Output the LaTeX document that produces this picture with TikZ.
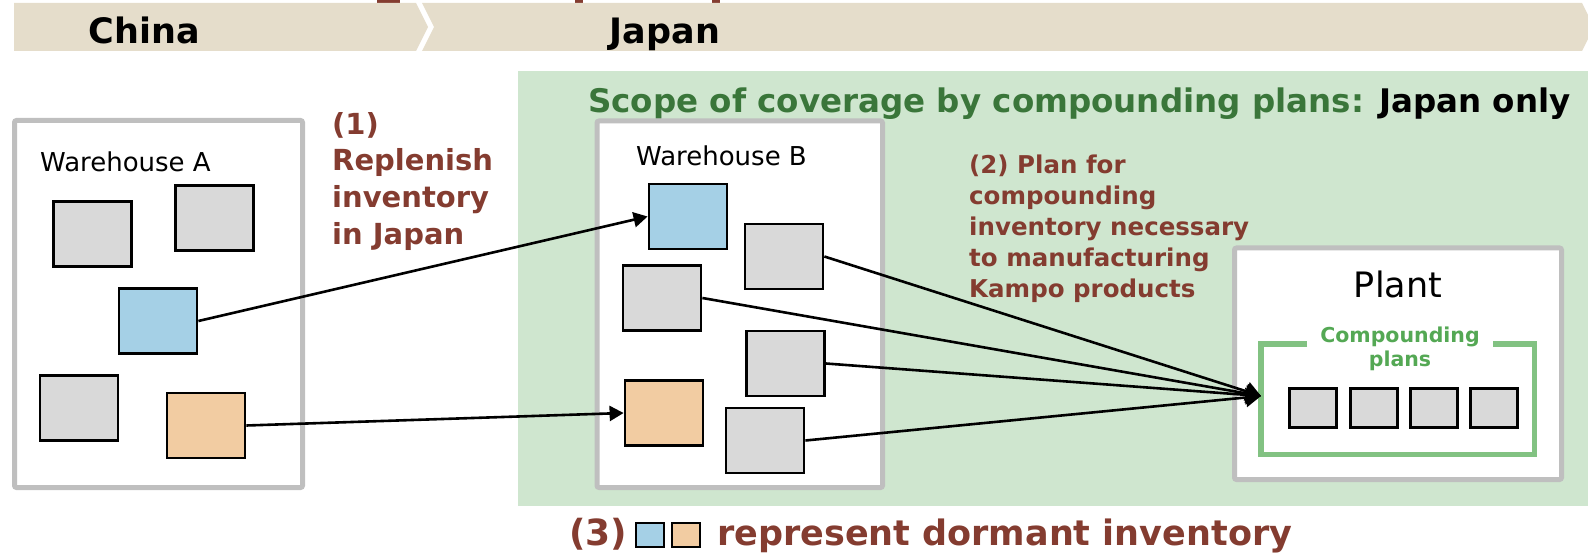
\documentclass[tikz,border=0pt]{standalone}
\usepackage{fontspec}
\setmainfont{DejaVu Sans}
\usetikzlibrary{arrows.meta}

\definecolor{banner}{RGB}{229,221,203}
\definecolor{scopebg}{RGB}{207,230,207}
\definecolor{frame}{RGB}{191,191,191}
\definecolor{stock}{RGB}{217,217,217}
\definecolor{dormblue}{RGB}{165,208,230}
\definecolor{dormorange}{RGB}{242,204,162}
\definecolor{brick}{RGB}{132,60,48}
\definecolor{scopegreen}{RGB}{58,118,58}
\definecolor{plangreen}{RGB}{84,168,84}
\definecolor{bracketgreen}{RGB}{130,194,130}

\newcommand\setfs[2]{\fontsize{#1}{#2}\selectfont}

\tikzset{
  site/.style={draw=frame, line width=5pt, fill=white, rounded corners=2pt},
  lot/.style={draw=black, line width=2.8pt, minimum width=78pt, minimum height=65pt, inner sep=0pt},
  stocklot/.style={lot, fill=stock},
  bluelot/.style={lot, fill=dormblue},
  orangelot/.style={lot, fill=dormorange},
  planlot/.style={draw=black, line width=2.8pt, fill=stock, minimum width=47pt, minimum height=39pt, inner sep=0pt},
  keylot/.style={draw=black, line width=2pt, minimum width=28pt, minimum height=24pt, inner sep=0pt},
  flow/.style={line width=2.6pt, -{Triangle[length=14pt,width=15pt]}},
  feed/.style={line width=2.6pt, -{Triangle[length=15pt,width=19pt]}},
  txt/.style={inner sep=0pt, anchor=base west},
  ctxt/.style={inner sep=0pt, anchor=base},
  step1/.style={txt, font=\bfseries\setfs{29}{35}, text=brick},
  step2/.style={txt, font=\bfseries\setfs{24.5}{30}, text=brick},
}

\begin{document}
\begin{tikzpicture}[x=1pt, y=-1pt]
\useasboundingbox (0,0) rectangle (1588,556);
\clip (0,0) rectangle (1588,556);

% cut-off heading remnants
\fill[brick] (377,0) rectangle (400,3);
\fill[brick] (575,0) rectangle (583,3);
\fill[brick] (712,0) rectangle (720,3);

% country banner
\fill[banner] (14,3) -- (416,3) -- (428,27) -- (416,51) -- (14,51) -- cycle;
\fill[banner] (422,3) -- (1582,3) -- (1594,27) -- (1582,51) -- (422,51) -- (434,27) -- cycle;
\node[ctxt, font=\bfseries\setfs{35}{42}] (china) at (144.5,43.5) {China};
\node[ctxt, font=\bfseries\setfs{35}{42}] (japan) at (665,43.5) {Japan};

% scope area
\fill[scopebg] (518,71) rectangle (1592,506);
\node[txt, font=\bfseries\setfs{32.5}{39}, text=scopegreen] (scope) at (588,113)
  {Scope of coverage by compounding plans: \textcolor{black}{Japan only}};

% sites
\draw[site] (14.5,120.5) rectangle (302.5,487.5);
\draw[site] (597,121) rectangle (882.5,487.5);
\draw[site] (1234.5,248) rectangle (1561.5,479.5);

\node[txt, font=\setfs{26}{31}] (whA) at (40,172) {Warehouse A};
\node[txt, font=\setfs{26}{31}] (whB) at (636,166) {Warehouse B};
\node[ctxt, font=\setfs{35}{42}] (plant) at (1398,297) {Plant};

% warehouse A stock
\node[stocklot]  (a1) at (92.5,234) {};
\node[stocklot]  (a2) at (214.5,218) {};
\node[bluelot]   (a3) at (158,321) {};
\node[stocklot]  (a4) at (79,408) {};
\node[orangelot] (a5) at (206,425.5) {};

% warehouse B stock
\node[bluelot]   (b1) at (688,216.5) {};
\node[stocklot]  (b2) at (784,256.5) {};
\node[stocklot]  (b3) at (662,298) {};
\node[stocklot]  (b4) at (785.5,363.5) {};
\node[orangelot] (b5) at (664,413) {};
\node[stocklot]  (b6) at (765,440.5) {};

% compounding plans bracket
\draw[bracketgreen, line width=5.5pt, miter limit=4]
  (1307,344) -- (1261,344) -- (1261,454.5) -- (1534.5,454.5) -- (1534.5,344) -- (1493,344);
\node[ctxt, font=\bfseries\setfs{20.5}{24}, text=plangreen] (cp1) at (1400,342.7) {Compounding};
\node[ctxt, font=\bfseries\setfs{20.5}{24}, text=plangreen] (cp2) at (1400,366.7) {plans};
\node[planlot] (p1) at (1313,408) {};
\node[planlot] (p2) at (1374,408) {};
\node[planlot] (p3) at (1434,408) {};
\node[planlot] (p4) at (1494,408) {};

% replenishment and supply flows
\draw[flow] (a3.east) -- (b1.west);
\draw[flow] (a5.east) -- (b5.west);
\coordinate (tip) at (1261,396);
\draw[feed] (b2.east) -- (tip);
\draw[feed] (b3.east) -- (tip);
\draw[feed] (b4.east) -- (tip);
\draw[feed] (b6.east) -- (tip);

% step (1)
\node[step1] (s1a) at (332,135) {(1)};
\node[step1] (s1b) at (332,171) {Replenish};
\node[step1] (s1c) at (332,207.5) {inventory};
\node[step1] (s1d) at (332,244) {in Japan};

% step (2)
\node[step2] (s2a) at (969,173.3) {(2) Plan for};
\node[step2] (s2b) at (969,204.3) {compounding};
\node[step2] (s2c) at (969,235.3) {inventory necessary};
\node[step2] (s2d) at (969,266.3) {to manufacturing};
\node[step2] (s2e) at (969,297.3) {Kampo products};

% step (3) with key
\node[txt, font=\bfseries\setfs{36}{42}, text=brick] (s3) at (569,545) {(3)};
\node[keylot, fill=dormblue]   (kb) at (650,534.5) {};
\node[keylot, fill=dormorange] (ko) at (685.5,534.5) {};
\node[txt, font=\bfseries\setfs{35}{42}, text=brick] (s3t) at (717,545) {represent dormant inventory};
\end{tikzpicture}
\end{document}
